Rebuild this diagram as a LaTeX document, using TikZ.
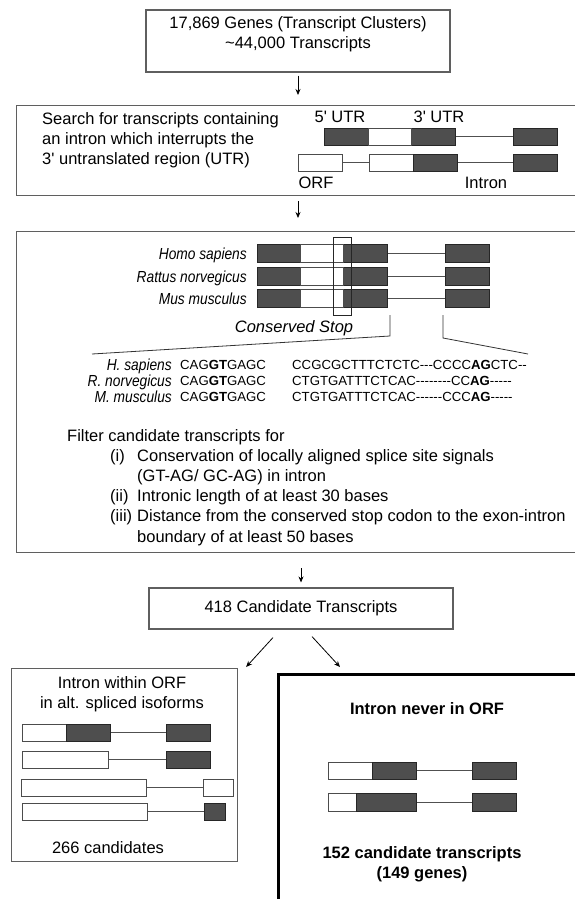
\documentclass[tikz,border=0pt]{standalone}
\usepackage{fontspec}
\setmainfont{Liberation Sans}
\newfontfamily\narrowfont[FakeStretch=0.86]{Liberation Sans}
\newfontfamily\seqfont{Liberation Sans}
\usetikzlibrary{arrows.meta, positioning}
\definecolor{exongray}{RGB}{78,78,78}
\definecolor{framegray}{RGB}{95,95,95}
\definecolor{introngray}{RGB}{80,80,80}
\tikzstyle{fbox}=[rectangle, draw=framegray, line width=1.1pt, inner sep=0pt]
\tikzstyle{txt}=[inner sep=0pt, font=\fontsize{16.5}{20.3}\selectfont]
\tikzstyle{ital}=[inner sep=0pt, font=\fontsize{16.5}{20.3}\selectfont\itshape]
\tikzstyle{bld}=[inner sep=0pt, font=\fontsize{16.5}{20.3}\selectfont\bfseries]
\tikzstyle{spc}=[inner sep=0pt, anchor=base east,
  font=\narrowfont\itshape\fontsize{16}{20}\selectfont]
\tikzstyle{seq}=[inner sep=0pt, anchor=base west,
  font=\seqfont\fontsize{13.2}{16}\selectfont]
\tikzstyle{exon}=[draw=black!85, fill=exongray, line width=0.9pt]
\tikzstyle{utr}=[draw=black!70, fill=white, line width=0.9pt]
\tikzstyle{intr}=[draw=introngray, line width=0.9pt]
\tikzstyle{darr}=[-{Stealth[length=6pt, width=5pt]}, line width=0.8pt, black]

\begin{document}
\begin{tikzpicture}[x=1pt, y=-1pt]
        \useasboundingbox (0,0) rectangle (575,899);
        \clip (0,0) rectangle (575,899);
        \node[fbox, minimum width=304pt, minimum height=62pt] (genes) at (298,41) {};
        \node[txt, align=center, anchor=north] (genestxt) at (298,16)
          {17,869 Genes (Transcript Clusters)\\\textasciitilde44,000 Transcripts};
        \node[fbox, minimum width=640pt, minimum height=90pt,
          anchor=north west] (search) at (16,105) {};
        \node[txt, align=left, anchor=north west] (searchtxt) at (42,112)
          {Search for transcripts containing\\an intron which interrupts the\\
           3\textquotesingle{} untranslated region (UTR)};
        \node[txt] (utrfive) at (340,117) {5\textquotesingle{} UTR};
        \node[txt] (utrthree) at (439,117) {3\textquotesingle{} UTR};
        \node[txt] (orf) at (316,183) {ORF};
        \node[txt] (intron) at (486,183) {Intron};
        \draw[intr] (455,136.5) -- (513,136.5);
        \draw[exon] (324,128) rectangle (368,145) (411,128) rectangle (455,145)
          (513,128) rectangle (557,145);
        \draw[utr] (368,128) rectangle (411,145);
        \draw[intr] (342,162.5) -- (369,162.5) (457,162.5) -- (513,162.5);
        \draw[utr] (298,154) rectangle (342,171) (369,154) rectangle (413,171);
        \draw[exon] (413,154) rectangle (457,171) (513,154) rectangle (557,171);
        \draw[darr, shorten <=3pt, shorten >=10pt] (genes.south) -- (genes.south |- search.north);

        \node[fbox, minimum width=640pt, minimum height=321pt,
          anchor=north west] (filter) at (16,231) {};
        \draw[darr, shorten <=5pt, shorten >=13pt] (genes.south |- search.south) -- (genes.south |- filter.north);
        \node[spc] (homo) at (247,259) {Homo sapiens};
        \node[spc] (rattus) at (247,282) {Rattus norvegicus};
        \node[spc] (mus) at (247,304) {Mus musculus};
        \draw[intr] (387,253) -- (445,253) (387,276) -- (445,276) (387,298) -- (445,298);
        \draw[exon] (257,244) rectangle (300,262) (343,244) rectangle (387,262)
          (445,244) rectangle (489,262);
        \draw[exon] (257,267) rectangle (300,285) (343,267) rectangle (387,285)
          (445,267) rectangle (489,285);
        \draw[exon] (257,289) rectangle (300,307) (343,289) rectangle (387,307)
          (445,289) rectangle (489,307);
        \draw[utr] (300,244) rectangle (343,262) (300,267) rectangle (343,285)
          (300,289) rectangle (343,307);
        \draw[draw=black!85, line width=0.9pt] (333,237) rectangle (351,315);
        \node[ital, anchor=base] (stop) at (294,332) {Conserved Stop};
        \draw[black!80, line width=0.8pt] (390,315) -- (390,336) -- (92,354);
        \draw[black!80, line width=0.8pt] (443,315) -- (443,338) -- (528,354);
        \node[spc] (hsap) at (172,370) {H. sapiens};
        \node[spc] (rnor) at (172,386) {R. norvegicus};
        \node[spc] (mmus) at (172,402) {M. musculus};
        \node[seq] (hsapa) at (180,369) {CAG\textbf{GT}GAGC};
        \node[seq] (rnora) at (180,385) {CAG\textbf{GT}GAGC};
        \node[seq] (mmusa) at (180,401) {CAG\textbf{GT}GAGC};
        \node[seq] (hsapb) at (292,369) {CCGCGCTTTCTCTC---CCCC\textbf{AG}CTC--};
        \node[seq] (rnorb) at (292,385) {CTGTGATTTCTCAC--------CC\textbf{AG}-----};
        \node[seq] (mmusb) at (292,401) {CTGTGATTTCTCAC------CCC\textbf{AG}-----};
        \node[txt, anchor=base west] (filt) at (67,441) {Filter candidate transcripts for};
        \node[txt, anchor=base west] (crit) at (110,461)
          {\begin{tabular}[t]{@{}l@{\hspace{5pt}}l@{}}
           (i) & Conservation of locally aligned splice site signals\\
               & (GT-AG/ GC-AG) in intron\\
           (ii) & Intronic length of at least 30 bases\\
           (iii) & Distance from the conserved stop codon to the exon-intron\\
                 & boundary of at least 50 bases
           \end{tabular}};

        \node[fbox, txt, minimum width=304pt, minimum height=41pt]
          (cand) at (301,608.5) {418 Candidate Transcripts};
        \draw[darr, shorten <=15pt, shorten >=5pt] (cand.north |- filter.south) -- (cand.north);

        \node[fbox, minimum width=226pt, minimum height=193pt,
          anchor=north west] (within) at (11,668) {};
        \node[txt, align=center, anchor=north] (withintxt) at (122,676)
          {Intron within ORF\\in alt. spliced isoforms};
        \draw[intr] (110,732.5) -- (166,732.5) (108,759.5) -- (166,759.5)
          (146,787.5) -- (203,787.5) (147,811.5) -- (204,811.5);
        \draw[utr] (22,724) rectangle (66,741) (22,751) rectangle (108,768)
          (21,779) rectangle (146,796) (203,779) rectangle (233,796)
          (22,803) rectangle (147,820);
        \draw[exon] (66,724) rectangle (110,741) (166,724) rectangle (210,741)
          (166,751) rectangle (210,768) (204,803) rectangle (225,820);
        \node[txt, anchor=base] (cntwithin) at (108,853) {266 candidates};

        \node[fbox, draw=black, line width=2.5pt, minimum width=400pt,
          minimum height=400pt, anchor=north west] (never) at (277,673) {};
        \node[bld, anchor=base] (nevertxt) at (427,714) {Intron never in ORF};
        \draw[intr] (416,770.5) -- (472,770.5) (416,802) -- (472,802);
        \draw[utr] (328,762) rectangle (372,779) (328,793) rectangle (356,811);
        \draw[exon] (372,762) rectangle (416,779) (472,762) rectangle (516,779)
          (356,793) rectangle (416,811) (472,793) rectangle (516,811);
        \node[bld, align=center, anchor=north] (cntnever) at (422,846)
          {152 candidate transcripts\\(149 genes)};

        \draw[darr] ([xshift=-28pt, yshift=-8pt]cand.south) -- ([xshift=8pt, yshift=1pt]within.north east);
        \draw[darr] ([xshift=11pt, yshift=-7pt]cand.south) -- ([xshift=63pt, yshift=6pt]never.north west);
      \end{tikzpicture}
\end{document}
